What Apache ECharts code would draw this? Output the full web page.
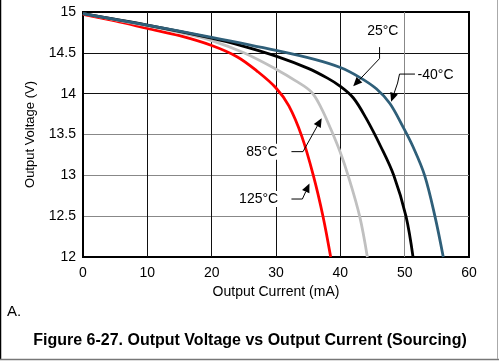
<!DOCTYPE html>
<html><head><meta charset="utf-8">
<script src="https://cdn.jsdelivr.net/npm/echarts@6/dist/echarts.min.js"></script>
<style>html,body{margin:0;padding:0;background:#fff}#c{width:499px;height:363px}</style>
</head><body><div id="c"></div>
<script>
const xTicks = [0, 10, 20, 30, 40, 50, 60];
const yTicks = [12, 12.5, 13, 13.5, 14, 14.5, 15];
const seriesNames = ['-40°C', '25°C', '85°C', '125°C'];
const dataM40 = [[0,14.98],[10,14.84],[20,14.69],[30,14.53],[36,14.42],[40,14.32],[43,14.20],[45.6,14.06],[47.7,13.88],[49.7,13.60],[51.3,13.35],[53.1,13.0],[54.7,12.5],[56.0,12.0]];
const data25 = [[0,14.98],[10,14.84],[20,14.68],[25,14.58],[30,14.46],[35,14.31],[38,14.19],[40,14.09],[42,13.95],[44,13.70],[46.3,13.35],[48.3,13.0],[50.2,12.5],[51.3,12.0]];
const data85 = [[0,14.98],[10,14.83],[15,14.75],[20,14.65],[25,14.50],[30,14.30],[33,14.16],[35.5,14.02],[37,13.83],[38.5,13.57],[40,13.28],[41.2,13.0],[43,12.5],[44.2,12.0]];
const data125 = [[0,14.97],[5,14.89],[10,14.80],[15,14.71],[20,14.59],[24,14.45],[27,14.28],[30,14.07],[32,13.85],[34,13.48],[35.8,13.0],[37.3,12.5],[38.5,12.0]];
const colors = ['#2f5f79', '#000000', '#c0c0c0', '#ff0000'];
// annotation: label position and leader path (data coords)
const annotations = [
  {text:'25°C', pos:[46.6,14.76], path:[[46.1,14.57],[46.1,14.43],[42.0,14.09]]},
  {text:'-40°C', pos:[54.8,14.23], path:[[51.6,14.24],[49.2,14.24],[48.9,14.13],[47.9,13.90]]},
  {text:'85°C', pos:[27.8,13.29], path:[[32.4,13.29],[34.2,13.29],[37.1,13.70]]},
  {text:'125°C', pos:[27.3,12.71], path:[[32.4,12.71],[34.1,12.71],[35.2,12.90]]}
];
const FONT = 'Liberation Sans, Arial, sans-serif';
const chart = echarts.init(document.getElementById('c'), null, {renderer:'canvas'});
const allData = [dataM40, data25, data85, data125];
chart.setOption({
  animation:false,
  grid:{left:83, right:30, top:12, bottom:106, show:true, borderColor:'#000', borderWidth:2, backgroundColor:'transparent'},
  xAxis:{type:'value', min:0, max:60, interval:10,
    name:'Output Current (mA)', nameLocation:'middle', nameGap:22,
    nameTextStyle:{fontFamily:FONT, fontSize:14, color:'#000'},
    axisLine:{show:false}, axisTick:{show:false},
    axisLabel:{fontFamily:FONT, fontSize:14, color:'#000', margin:9, formatter:v=>xTicks.includes(v)?String(v):''},
    splitLine:{show:true, lineStyle:{width:1, color:['#000','#111','#111','#111','#111','#888','#000']}}},
  yAxis:{type:'value', min:12, max:15, interval:0.5,
    name:'Output Voltage (V)', nameLocation:'middle', nameGap:46,
    nameTextStyle:{fontFamily:FONT, fontSize:13, color:'#000'},
    axisLine:{show:false}, axisTick:{show:false},
    axisLabel:{fontFamily:FONT, fontSize:14, color:'#000', margin:7, formatter:v=>yTicks.includes(v)?String(v):''},
    splitLine:{show:true, lineStyle:{width:1, color:['#000','#888','#888','#888','#111','#111','#000']}}},
  series: allData.map((d,i)=>({
    name:seriesNames[i], type:'line', data:d, smooth:0.35, symbol:'none',
    lineStyle:{color:colors[i], width:2.8}, z:5-i
  }))
});
const P = p => chart.convertToPixel({gridIndex:0}, p);
const g = [];
annotations.forEach(a=>{
  const c = P(a.pos);
  g.push({type:'text', x:c[0], y:c[1], z:20,
    style:{text:a.text, font:'14px '+FONT, fill:'#000', align:'center', verticalAlign:'middle',
      backgroundColor:'#fff', padding:[1,2]}});
  const pts = a.path.map(P);
  const tip = pts[pts.length-1], prev = pts[pts.length-2];
  let dx = tip[0]-prev[0], dy = tip[1]-prev[1];
  const L = Math.hypot(dx,dy); dx/=L; dy/=L;
  const hl = 9, hw = 4;
  const base = [tip[0]-dx*hl, tip[1]-dy*hl];
  const shaft = pts.slice(0,-1).concat([base]);
  g.push({type:'polyline', z:21, shape:{points:shaft}, style:{stroke:'#000', lineWidth:1, fill:null}});
  g.push({type:'polygon', z:21, shape:{points:[tip,[base[0]-dy*hw, base[1]+dx*hw],[base[0]+dy*hw, base[1]-dx*hw]]}, style:{fill:'#000'}});
});
g.push({type:'text', left:7, top:304, style:{text:'A.', font:'15px '+FONT, fill:'#000'}});
g.push({type:'text', x:250, y:341, style:{text:'Figure 6-27. Output Voltage vs Output Current (Sourcing)', font:'bold 16px '+FONT, fill:'#000', align:'center', verticalAlign:'middle'}});
g.push({type:'line', shape:{x1:0.5,y1:0,x2:0.5,y2:359}, style:{stroke:'#000', lineWidth:1.5}});
g.push({type:'line', shape:{x1:0,y1:359.5,x2:499,y2:359.5}, style:{stroke:'#777', lineWidth:1.5}});
g.push({type:'line', shape:{x1:497.5,y1:0,x2:497.5,y2:359}, style:{stroke:'#aaa', lineWidth:1}});
chart.setOption({graphic:g});
</script></body></html>
